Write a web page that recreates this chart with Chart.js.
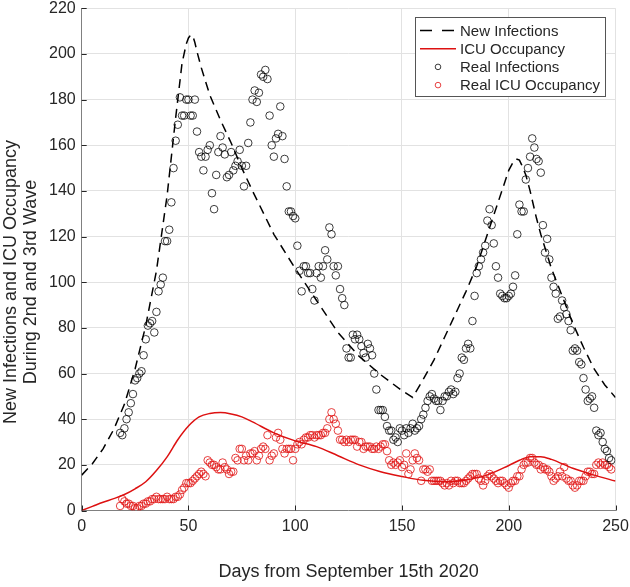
<!DOCTYPE html>
<html>
<head>
<meta charset="utf-8">
<script src="https://cdn.jsdelivr.net/npm/chart.js@4.4.1/dist/chart.umd.min.js"></script>
<style>
  html, body { margin: 0; padding: 0; background: #fff; }
</style>
</head>
<body>
<canvas id="chart" width="630" height="587"></canvas>
<script>
// axis ticks
const xTicks = [0, 50, 100, 150, 200, 250];
const yTicks = [0, 20, 40, 60, 80, 100, 120, 140, 160, 180, 200, 220];
const xTitle = 'Days from September 15th 2020';
const yTitle = ['New Infections and ICU Occupancy', 'During 2nd and 3rd Wave'];

// model curves
const infModelDays = [0, 5, 10, 15, 20, 25, 30, 35, 40, 44, 47, 49, 50, 51, 52, 53, 54, 56, 60, 65, 70, 75, 80, 90, 100, 110, 120, 130, 140, 150, 155,
  160, 165, 170, 175, 180, 185, 190, 195, 200, 202, 203.5, 205, 206, 208, 210, 213, 215, 220, 225, 230, 235, 240, 245, 250];
const infModel = [15.5, 20.5, 27, 35.5, 46.5, 62, 81, 105, 138, 172, 196, 204.5, 207, 208.3, 208, 205, 201, 194, 182, 171, 161, 150, 140, 121, 106, 92, 78, 67.5, 59.5, 52.5, 49.5,
  57.5, 66, 76, 86, 96, 107, 121, 135, 149, 152.5, 154, 153.5, 151.5, 147, 140, 128, 121, 106, 94, 82, 71.5, 62, 55, 49.5];

const icuModelDays = [0, 5, 10, 15, 20, 25, 30, 35, 40, 45, 50, 55, 60, 65, 70, 75, 80, 90, 100, 110, 120, 130, 140, 150, 160, 170, 180, 190, 200, 205, 210, 215, 220, 230, 240, 250];
const icuModel = [0, 1.8, 3.6, 5.2, 7, 9.5, 12.6, 17.5, 23.5, 31, 37, 41, 42.5, 42.9, 42.3, 41, 38.8, 34, 30.5, 28, 24, 20, 17, 14.9, 13.2, 12.6, 13.4, 15.6, 19.7, 22, 23.6, 23.6, 22.4, 18.5, 15.5, 12.9];

// reported data, one value per day starting at realStartDay
const realStartDay = 18;
const realInfections = [
  34, 33, 36, 40, 43, 47, 51, 57, 58, 60,
  61, 68, 75, 81, 82, 83, 78, 87, 96, 99,
  102, 118, 118, 123, 135, 150, 162, 169, 181, 173,
  173, 180, 180, 173, 173, 180, 166, 157, 155, 149,
  155, 158, 160, 139, 132, 147, 157, 164, 159, 156,
  146, 147, 157, 149, 151, 153, 158, 151, 142, 151,
  161, 170, 180, 184, 179, 183, 191, 190, 193, 189,
  173, 160, 155, 163, 165, 177, 164, 154, 142, 131,
  131, 129, 128, 116, 105, 96, 107, 107, 104, 104,
  97, 92, 104, 107, 102, 107, 114, 110, 124, 121,
  107, 103, 107, 97, 93, 90, 71, 67, 67, 77,
  75, 77, 75, 72, 69, 67, 73, 71, 68, 60,
  53, 44, 44, 44, 41, 37, 35, 35, 31, 32,
  30, 36, 35, 33, 36, 34, 36, 38, 35, 36,
  37, 40, 42, 45, 48, 50, 51, 49, 48, 48,
  44, 48, 50, 50, 52, 53, 51, 52, 58, 60,
  67, 66, 71, 73, 71, 83, 94, 104, 107, 110,
  113, 116, 127, 132, 125, 117, 107, 102, 95, 94,
  93, 93, 94, 95, 98, 103, 121, 134, 131, 131,
  145, 150, 155, 163, 159, 154, 153, 148, 125, 113,
  119, 110, 102, 98, 95, 84, 85, 92, 89, 86,
  83, 79, 70, 71, 70, 65, 64, 58, 53, 48,
  49, 50, 45, 35, 33, 34, 30, 27, 26, 23,
  22
];
const realIcu = [
  2, 5, 4, 3, 3, 2, 2, 1, 1, 2,
  2, 3, 3, 4, 4, 5, 5, 6, 5, 5,
  5, 5, 6, 5, 5, 5, 6, 6, 7, 9,
  10, 12, 12, 12, 13, 14, 15, 16, 17, 16,
  15, 22, 21, 20, 20, 19, 18, 18, 21, 19,
  18, 16, 17, 17, 23, 22, 27, 27, 22, 24,
  22, 25, 25, 26, 22, 24, 27, 28, 27, 33,
  22, 24, 25, 32, 34, 31, 27, 25, 27, 27,
  27, 22, 27, 29, 30, 29, 31, 32, 32, 33,
  33, 32, 33, 33, 33, 34, 34, 36, 40, 43,
  40, 38, 35, 31, 31, 30, 31, 30, 31, 31,
  31, 28, 30, 30, 27, 28, 28, 28, 27, 27,
  28, 27, 28, 29, 29, 26, 22, 20, 21, 20,
  21, 22, 19, 20, 25, 16, 18, 22, 25, 23,
  22, 13, 18, 18, 17, 18, 13, 13, 13, 13,
  13, 12, 11, 12, 11, 13, 12, 13, 13, 12,
  12, 12, 13, 14, 15, 16, 16, 16, 14, 13,
  11, 13, 15, 16, 15, 14, 13, 12, 13, 13,
  12, 11, 10, 12, 13, 13, 15, 15, 18, 20,
  21, 21, 23, 23, 21, 20, 20, 18, 19, 18,
  18, 17, 15, 13, 14, 15, 17, 15, 19, 14,
  13, 13, 11, 10, 11, 13, 13, 13, 15, 17,
  17, 16, 16, 20, 21, 20, 21, 20, 20, 19,
  18
];

const TEXT = '#262626';
const RED = '#dd1111';
const FONT = '"Liberation Sans", Arial, Helvetica, sans-serif';

const toPoints = (xs, ys) => ys.map((y, i) => ({ x: xs[i], y }));
const toDaily = ys => ys.map((y, i) => ({ x: realStartDay + i, y }));

// draws the inward ticks, the rotated y label and the boxed legend
const overlay = {
  id: 'overlay',
  afterDraw(chart) {
    const { ctx, chartArea, scales } = chart;
    ctx.save();

    ctx.strokeStyle = TEXT;
    ctx.lineWidth = 1;
    xTicks.forEach(v => {
      const px = Math.round(scales.x.getPixelForValue(v)) + 0.5;
      ctx.beginPath();
      ctx.moveTo(px, chartArea.bottom);
      ctx.lineTo(px, chartArea.bottom - 5);
      ctx.stroke();
    });
    yTicks.forEach(v => {
      const py = Math.round(scales.y.getPixelForValue(v)) + 0.5;
      ctx.beginPath();
      ctx.moveTo(chartArea.left, py);
      ctx.lineTo(chartArea.left + 5, py);
      ctx.stroke();
    });

    // y axis label
    ctx.fillStyle = TEXT;
    ctx.font = '18px ' + FONT;
    ctx.textAlign = 'center';
    ctx.textBaseline = 'middle';
    yTitle.forEach((line, i) => {
      ctx.save();
      ctx.translate(11 + i * 20, 282);
      ctx.rotate(-Math.PI / 2);
      ctx.fillText(line, 0, 0);
      ctx.restore();
    });

    // legend
    const box = { x: 415.5, y: 17.5, w: 190, h: 79 };
    ctx.fillStyle = '#fff';
    ctx.fillRect(box.x, box.y, box.w, box.h);
    ctx.strokeStyle = '#555';
    ctx.lineWidth = 1;
    ctx.strokeRect(box.x, box.y, box.w, box.h);

    ctx.font = '15px ' + FONT;
    ctx.textAlign = 'left';
    chart.data.datasets.forEach((ds, i) => {
      const y = 30.5 + i * 18.2;
      if (ds.showLine) {
        ctx.strokeStyle = ds.borderColor;
        ctx.lineWidth = ds.borderWidth;
        ctx.setLineDash(ds.borderDash.length ? [12, 10] : []);
        ctx.beginPath();
        ctx.moveTo(420, y);
        ctx.lineTo(456, y);
        ctx.stroke();
        ctx.setLineDash([]);
      } else {
        ctx.strokeStyle = ds.borderColor;
        ctx.lineWidth = 0.9;
        ctx.beginPath();
        ctx.arc(438, y, 2.8, 0, Math.PI * 2);
        ctx.stroke();
      }
      ctx.fillStyle = TEXT;
      ctx.fillText(ds.label, 460, y + 1);
    });

    ctx.restore();
  }
};

new Chart(document.getElementById('chart'), {
  type: 'scatter',
  data: {
    datasets: [
      {
        label: 'New Infections',
        data: toPoints(infModelDays, infModel),
        showLine: true,
        borderColor: '#000',
        borderWidth: 1.5,
        borderDash: [9, 6],
        pointRadius: 0,
        tension: 0
      },
      {
        label: 'ICU Occupancy',
        data: toPoints(icuModelDays, icuModel),
        showLine: true,
        borderColor: RED,
        borderWidth: 1.5,
        borderDash: [],
        pointRadius: 0,
        cubicInterpolationMode: 'monotone'
      },
      {
        label: 'Real Infections',
        data: toDaily(realInfections),
        showLine: false,
        borderColor: 'rgba(0,0,0,0.85)',
        backgroundColor: 'rgba(0,0,0,0)',
        pointRadius: 3.8,
        pointBorderWidth: 0.9
      },
      {
        label: 'Real ICU Occupancy',
        data: toDaily(realIcu),
        showLine: false,
        borderColor: 'rgba(225,20,20,0.9)',
        backgroundColor: 'rgba(0,0,0,0)',
        pointRadius: 3.8,
        pointBorderWidth: 0.9
      }
    ]
  },
  options: {
    responsive: false,
    animation: false,
    layout: { padding: { top: 8.3, right: 14.5, left: 0, bottom: 0 } },
    plugins: {
      legend: { display: false },
      tooltip: { enabled: false }
    },
    scales: {
      x: {
        type: 'linear',
        min: 0,
        max: 250,
        afterBuildTicks: s => { s.ticks = xTicks.map(v => ({ value: v })); },
        afterFit: s => { s.height = 76.5; s.paddingLeft = 0; s.paddingRight = 0; },
        grid: { color: '#e2e2e2', drawTicks: false },
        border: { color: '#808080' },
        ticks: { padding: 6, color: TEXT, font: { size: 16, family: FONT } },
        title: {
          display: true,
          text: xTitle,
          color: TEXT,
          font: { size: 18, family: FONT, lineHeight: 1.2 },
          padding: { top: 0, bottom: 4.5 }
        }
      },
      y: {
        type: 'linear',
        min: 0,
        max: 220,
        afterBuildTicks: s => { s.ticks = yTicks.map(v => ({ value: v })); },
        afterFit: s => { s.width = 81.7; s.paddingTop = 0; s.paddingBottom = 0; },
        grid: { color: '#e2e2e2', drawTicks: false },
        border: { color: '#808080' },
        ticks: { padding: 6, color: TEXT, font: { size: 16, family: FONT } }
      }
    }
  },
  plugins: [overlay]
});
</script>
</body>
</html>
